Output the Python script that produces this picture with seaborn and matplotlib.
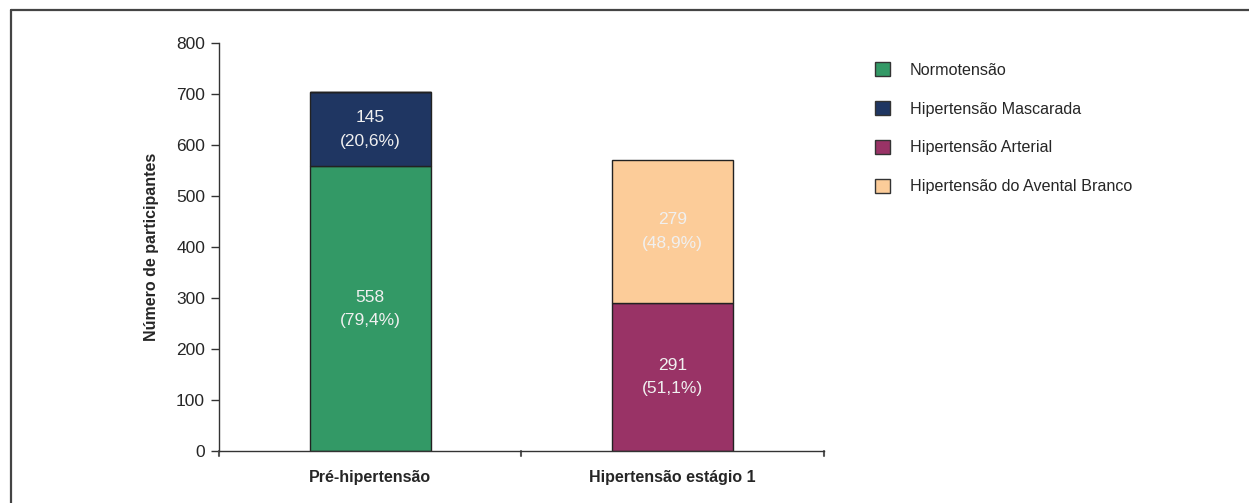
import matplotlib
matplotlib.use("Agg")
import matplotlib.pyplot as plt
import matplotlib.patches as mpatches
from matplotlib.lines import Line2D
import seaborn as sns
import numpy as np

categories = ["Pré-hipertensão", "Hipertensão estágio 1"]
normotensao = [558, 0]
mascarada = [145, 0]
arterial = [0, 291]
avental_branco = [0, 279]
pct_normotensao = ["79,4%", ""]
pct_mascarada = ["20,6%", ""]
pct_arterial = ["", "51,1%"]
pct_avental = ["", "48,9%"]
yticks = [0, 100, 200, 300, 400, 500, 600, 700, 800]

series = [
    ("Normotensão", normotensao, pct_normotensao, "#339966"),
    ("Hipertensão Mascarada", mascarada, pct_mascarada, "#1f3662"),
    ("Hipertensão Arterial", arterial, pct_arterial, "#993366"),
    ("Hipertensão do Avental Branco", avental_branco, pct_avental, "#fccc99"),
]

sns.set_theme(style="white")
plt.rcParams["font.family"] = ["Liberation Sans", "DejaVu Sans"]

fig = plt.figure(figsize=(12.49, 5.03), dpi=100)
ax = fig.add_axes([0.1753, 0.1034, 0.4844, 0.8111])

# stacked bars: each segment sits on the running total of the earlier ones
bottom = np.zeros(len(categories))
handles = []
for name, vals, pcts, color in series:
    vals = np.array(vals, dtype=float)
    sns.barplot(x=categories, y=vals, bottom=bottom, color=color, width=0.4,
                edgecolor="#222222", linewidth=1.0, saturation=1, ax=ax)
    for i, (v, p) in enumerate(zip(vals, pcts)):
        if v > 0:
            ax.text(i, bottom[i] + v / 2, f"{int(v)}\n({p})", ha="center",
                    va="center", color="#f0f0f0", fontsize=12.5,
                    linespacing=1.7)
    bottom = bottom + vals
    handles.append(mpatches.Patch(facecolor=color, edgecolor="#333333",
                                  linewidth=1.0, label=name))

ax.set_ylim(0, 800)
ax.set_xlim(-0.5, 1.5)
ax.set_yticks(yticks)
ax.set_yticklabels([str(t) for t in yticks], fontsize=12.5)
ax.set_ylabel("Número de participantes", fontsize=11.5, fontweight="bold",
              labelpad=12)
ax.set_xticks([0, 1])
ax.set_xticklabels(categories, fontsize=11.5, fontweight="bold")
ax.tick_params(axis="x", length=0, pad=14)
ax.tick_params(axis="y", length=6, width=1, color="#333333", direction="out",
               left=True, pad=4)
for s in ["top", "right"]:
    ax.spines[s].set_visible(False)
for s in ["left", "bottom"]:
    ax.spines[s].set_color("#333333")
    ax.spines[s].set_linewidth(1.0)

# category boundary ticks below the x axis
for xb in [-0.5, 0.5, 1.5]:
    ax.plot([xb, xb], [0, -0.012], transform=ax.get_xaxis_transform(),
            color="#555555", lw=1.5, clip_on=False)

fig.legend(handles=handles, loc="upper left", bbox_to_anchor=(0.689, 0.905),
           frameon=False, fontsize=11.6, handlelength=0.95,
           handleheight=0.95, labelspacing=1.45, handletextpad=1.2)

# outer frame
fig.add_artist(Line2D([0.0088, 0.0088], [0, 0.981], color="#444444", lw=1.6,
                      transform=fig.transFigure))
fig.add_artist(Line2D([0.0088, 1.0], [0.981, 0.981], color="#444444", lw=1.6,
                      transform=fig.transFigure))

fig.savefig("out.png", dpi=100)
